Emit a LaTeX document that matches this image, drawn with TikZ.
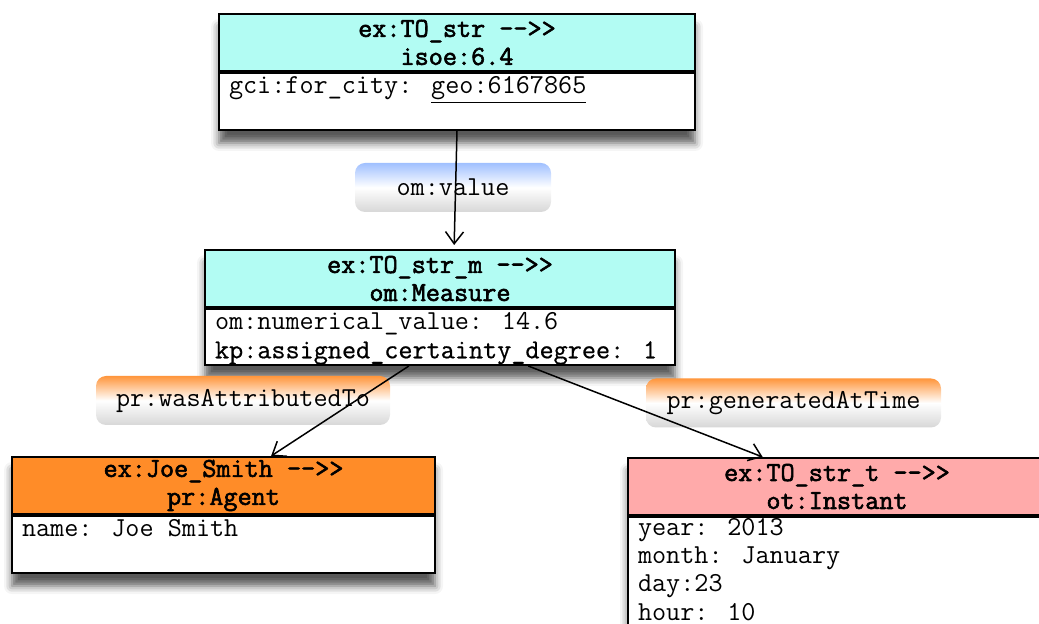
\documentclass[tikz,border=0pt]{standalone}
\usepackage{fontspec}
\newfontfamily\semimono[FakeBold=0.6]{Latin Modern Mono}
\newfontfamily\headmono[FakeBold=2.2]{Latin Modern Mono}
\usetikzlibrary{arrows.meta,calc,fit,backgrounds,shadows.blur}
\definecolor{hcyan}{RGB}{178,252,243}
\definecolor{horange}{RGB}{255,140,40}
\definecolor{hpink}{RGB}{255,170,170}
\definecolor{lblue}{RGB}{160,192,255}
\definecolor{lorange}{RGB}{255,150,60}
\definecolor{lgrey}{RGB}{215,215,215}
\tikzset{
  head/.style={draw, line width=1pt, inner sep=0pt, anchor=north west, align=center,
    minimum height=28.5pt, font=\fontsize{13.7}{14}\selectfont\headmono},
  bodybox/.style={draw, line width=1pt, fill=white, inner sep=0pt, anchor=north west,
    font=\fontsize{13.7}{14.5}\selectfont\ttfamily},
  shadowbox/.style={fill=white, inner sep=-0.5pt,
    blur shadow={shadow xshift=0pt, shadow yshift=-6.5pt, shadow blur radius=4pt, shadow opacity=65}},
  lbl/.style={rounded corners=5pt, inner sep=0pt, minimum height=24.5pt,
    font=\fontsize{13.7}{14}\selectfont\ttfamily},
  lblblue/.style={lbl, top color=lblue, bottom color=lgrey, middle color=white},
  lblorange/.style={lbl, top color=lorange, bottom color=lgrey, middle color=white},
  arr/.style={line width=0.75pt, -{Straight Barb[length=6pt,width=9pt]}}
}
\newcommand{\bodytext}[3]{\parbox[c][#1][t]{#2}{\leftskip=5pt\relax #3}}
\begin{document}
\begin{tikzpicture}[x=0.5pt,y=-0.5pt]
\useasboundingbox (0,0) rectangle (1039,624);
\clip (0,0) rectangle (1039,624);
% top box
\node[head, fill=hcyan, minimum width=238pt] (th) at (218,13) {ex:TO\_str -{}->>\\isoe:6.4};
\node[bodybox] (tb) at (th.south west) {\bodytext{28.5pt}{238pt}{\strut gci:for\_city: \underline{geo:6167865}}};
% middle box
\node[head, fill=hcyan, minimum width=235pt] (mh) at (204,249) {ex:TO\_str\_m -{}->>\\om:Measure};
\node[bodybox] (mb) at (mh.south west) {\bodytext{28pt}{235pt}{\strut om:numerical\_value: 14.6\\\strut {\semimono kp:assigned\_certainty\_degree: 1}}};
% left box
\node[head, fill=horange, minimum width=211.5pt] (lh) at (11,456) {ex:Joe\_Smith -{}->>\\pr:Agent};
\node[bodybox] (lb) at (lh.south west) {\bodytext{28.5pt}{211.5pt}{\strut name: Joe Smith}};
% right box
\node[head, fill=hpink, minimum width=209pt] (rh) at (627,457) {ex:TO\_str\_t -{}->>\\ot:Instant};
\node[bodybox] (rb) at (rh.south west) {\bodytext{90pt}{209pt}{\fontsize{13.7}{14.15}\selectfont\vspace*{-0.75pt}\strut year: 2013\\\strut month: January\\\strut day:23\\\strut hour: 10}};
% shadows
\begin{scope}[on background layer]
\node[shadowbox, fit=(th)(tb)] (tsh) {};
\node[shadowbox, fit=(mh)(mb)] (msh) {};
\node[shadowbox, fit=(lh)(lb)] (lsh) {};
\node[shadowbox, fit=(rh)(rb)] (rsh) {};
\end{scope}
% labels
\node[lblblue, minimum width=98pt] (l1) at (453,187.5) {om:value};
\node[lblorange, minimum width=147pt] (l2) at (243,400.5) {pr:wasAttributedTo};
\node[lblorange, minimum width=147.5pt] (l3) at (793.5,403) {pr:generatedAtTime};
% connectors
\draw[arr] (tb.south) -- ($(mh.north west)!0.53!(mh.north east)+(0,-4)$);
\draw[arr] ($(mb.south west)!0.434!(mb.south east)$) -- ($(lh.north west)!0.612!(lh.north east)$);
\draw[arr] ($(mb.south west)!0.687!(mb.south east)$) -- ($(rh.north west)!0.323!(rh.north east)$);
\end{tikzpicture}
\end{document}
